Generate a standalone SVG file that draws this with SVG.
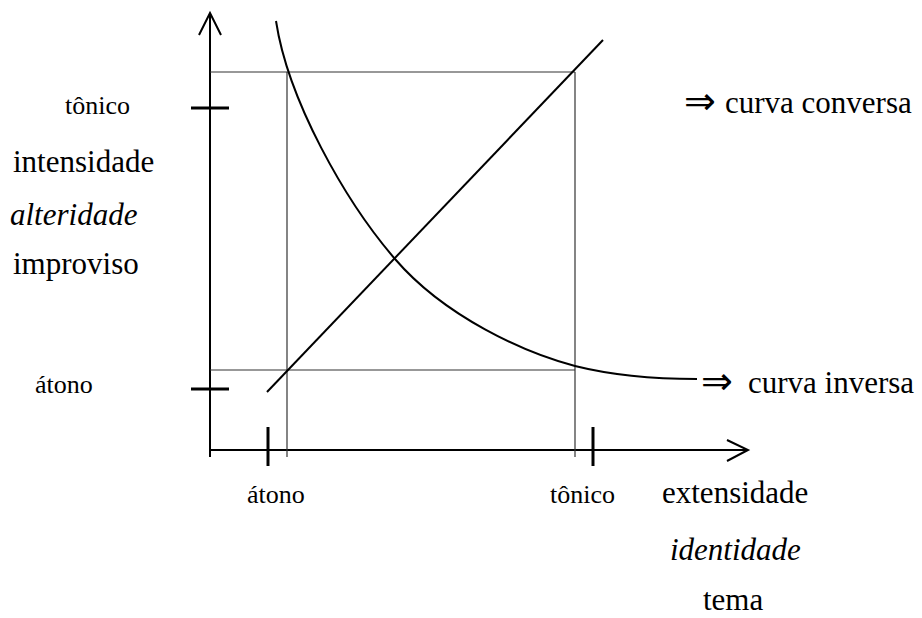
<svg xmlns="http://www.w3.org/2000/svg" width="922" height="618" viewBox="0 0 922 618">
<style>
.ax{stroke:#000;stroke-width:2;fill:none}
.thin{stroke:#333;stroke-width:1.2;fill:none}
.tick{stroke:#000;stroke-width:3;fill:none}
.cv{stroke:#000;stroke-width:2;fill:none}
text{font-family:"Liberation Serif","Times New Roman",serif;fill:#000}
.big{font-size:31px}
.sm{font-size:26px}
.it{font-style:italic}
.arr{font-family:"DejaVu Sans","Liberation Serif",sans-serif;font-size:38px}
</style>
<rect width="922" height="618" fill="#fff"/>
<g id="connectors">
<g id="axes">
<path class="ax" d="M210,13 V457"/>
<path class="ax" d="M199,35 L210,13 L221,35"/>
<path class="ax" d="M210,450 H748"/>
<path class="ax" d="M727,440 L748,450 L727,461"/>
</g>
<g id="ticks">
<path class="tick" d="M191,108 H229"/>
<path class="tick" d="M191,389 H229"/>
<path class="tick" d="M268,427 V466"/>
<path class="tick" d="M593,427 V466"/>
</g>
<g id="guides">
<path class="thin" d="M210,72 H575"/>
<path class="thin" d="M210,370 H575"/>
<path class="thin" d="M287,72 V457"/>
<path class="thin" d="M575,72 V457"/>
</g>
<path id="converse" class="cv" d="M267,392 L603,40"/>
<path id="inverse" class="cv" d="M276,21 C288,100 345,201 395,259 C445,317 525,353 575,366 C615,376 655,379 697,379"/>
</g>
<g id="y-labels">
<text class="sm" x="65" y="114">tônico</text>
<text class="big" x="13" y="172">intensidade</text>
<text class="big it" x="10" y="225">alteridade</text>
<text class="big" x="13" y="274">improviso</text>
<text class="sm" x="35" y="393">átono</text>
</g>
<g id="x-labels">
<text class="sm" x="247" y="503">átono</text>
<text class="sm" x="550" y="503">tônico</text>
<text class="big" x="662" y="503">extensidade</text>
<text class="big it" x="670" y="560">identidade</text>
<text class="big" x="703" y="610">tema</text>
</g>
<g id="curve-labels">
<text class="arr" x="684" y="114">⇒</text>
<text class="big" x="725" y="113">curva conversa</text>
<text class="arr" x="701" y="394">⇒</text>
<text class="big" x="748" y="393">curva inversa</text>
</g>
</svg>
